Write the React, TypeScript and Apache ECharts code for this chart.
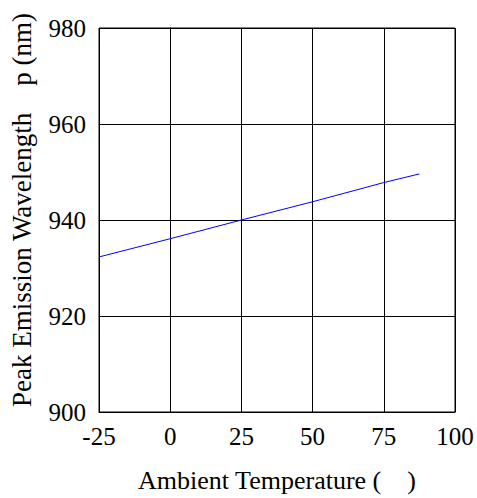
import React, { useEffect, useRef } from "react";
import * as echarts from "echarts";

const temperatures = [-25, 0, 25, 50, 75, 87.5];
const wavelengths = [932.3, 936.1, 940, 943.8, 947.8, 949.6];
const xTicks = { min: -25, max: 100, interval: 25 };
const yTicks = { min: 900, max: 980, interval: 20 };
const xName = "Ambient Temperature (    )";
const yName = "Peak Emission Wavelength    p (nm)";

const FONT = "Liberation Serif, Times New Roman, serif";

export default function App() {
  const ref = useRef<HTMLDivElement>(null);
  useEffect(() => {
    if (!ref.current) return;
    const chart = echarts.init(ref.current, undefined, { renderer: "svg" });
    const lineStyle = { color: "#000", width: 1 };
    chart.setOption({
      animation: false,
      backgroundColor: "#fff",
      textStyle: { fontFamily: FONT },
      grid: {
        left: 96,
        right: 22,
        top: 28,
        bottom: 85,
        show: true,
        borderColor: "#000",
        borderWidth: 1,
        backgroundColor: "transparent",
      },
      xAxis: {
        type: "value",
        min: xTicks.min,
        max: xTicks.max,
        interval: xTicks.interval,
        name: xName,
        nameLocation: "middle",
        nameGap: 55,
        nameTextStyle: { fontFamily: FONT, fontSize: 26, color: "#000" },
        axisLine: { show: true, lineStyle },
        axisTick: { show: false },
        axisLabel: { fontFamily: FONT, fontSize: 25, color: "#000", margin: 12 },
        splitLine: { show: true, lineStyle },
      },
      yAxis: {
        type: "value",
        min: yTicks.min,
        max: yTicks.max,
        interval: yTicks.interval,
        name: yName,
        nameLocation: "middle",
        nameGap: 64,
        nameTextStyle: { fontFamily: FONT, fontSize: 27, color: "#000", padding: [0, 0, 0, 20] },
        axisLine: { show: true, lineStyle },
        axisTick: { show: false },
        axisLabel: { fontFamily: FONT, fontSize: 25, color: "#000", margin: 13 },
        splitLine: { show: true, lineStyle },
      },
      series: [
        {
          type: "line",
          data: temperatures.map((t, i) => [t, wavelengths[i]]),
          showSymbol: false,
          lineStyle: { color: "#0000ff", width: 1 },
        },
      ],
    });
    return () => chart.dispose();
  }, []);
  return <div ref={ref} style={{ width: 477, height: 498, position: "absolute", left: 0, top: 0 }} />;
}
